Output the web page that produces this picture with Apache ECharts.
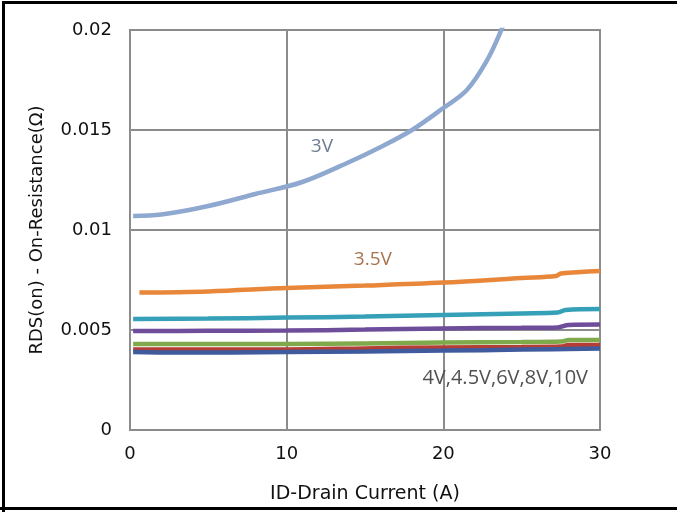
<!DOCTYPE html>
<html><head><meta charset="utf-8">
<script src="https://cdn.jsdelivr.net/npm/echarts@6/dist/echarts.min.js"></script>
<style>html,body{margin:0;padding:0;background:#fff}#c{width:677px;height:512px}</style>
</head><body><div id="c"></div>
<script>
const xTicks = [0, 10, 20, 30];
const yTicks = [0, 0.005, 0.01, 0.015, 0.02];

const x3V = [0.2, 2, 5, 8, 11, 14, 16, 18, 20, 21.5, 22.8, 23.7, 24.3];
const y3V = [0.0107, 0.01077, 0.0112, 0.0118, 0.0124, 0.0134, 0.01415, 0.0150, 0.0161, 0.0170, 0.0185, 0.0200, 0.0212];

const x35V = [0.6, 5, 10, 15, 20, 25, 27.2, 27.5, 30];
const y35V = [0.00687, 0.00693, 0.0071, 0.00722, 0.00737, 0.0076, 0.0077, 0.00782, 0.00795];

const xTeal = [0.2, 5, 10, 15, 20, 25, 27.3, 27.8, 30];
const yTeal = [0.00555, 0.00557, 0.00562, 0.00567, 0.00575, 0.00583, 0.00587, 0.006, 0.00605];

const xPurple = [0.2, 5, 10, 15, 20, 25, 27.3, 28, 30];
const yPurple = [0.00495, 0.00496, 0.00497, 0.00502, 0.00508, 0.00511, 0.00513, 0.00525, 0.00527];

const xGreen = [0.2, 5, 10, 15, 20, 25, 27.5, 28, 30];
const yGreen = [0.0043, 0.0043, 0.0043, 0.00433, 0.00437, 0.0044, 0.00442, 0.0045, 0.0045];

const xRed = [0.2, 5, 10, 15, 20, 25, 27.5, 28, 30];
const yRed = [0.00403, 0.00403, 0.00403, 0.00408, 0.00413, 0.00415, 0.00417, 0.00425, 0.00425];

const xBlue = [0.2, 3, 10, 15, 20, 25, 30];
const yBlue = [0.0039, 0.00387, 0.0039, 0.00393, 0.00397, 0.00402, 0.00408];

const labelTexts = ['3V', '3.5V', '4V,4.5V,6V,8V,10V'];

function pairs(xs, ys){ return xs.map((x,i)=>[x, ys[i]]); }

const chart = echarts.init(document.getElementById('c'), null, {renderer:'canvas'});
const axisFont = {fontFamily:'DejaVu Sans, sans-serif', fontSize:18, color:'#111'};
function line(name, data, color){
  return {name, type:'line', data, smooth:0.35, showSymbol:false, symbol:'none', clip:true,
    lineStyle:{color, width:4.5}, itemStyle:{color}, z:3};
}
function note(coord, text, color, size){
  return {symbol:'circle', symbolSize:1, silent:true, itemStyle:{color:'rgba(0,0,0,0)'},
    data:[{coord, value:text, label:{show:true, formatter:text, fontFamily:'Open Sans, sans-serif', fontSize:size, color, position:'inside'}}]};
}
const s3 = line('3V', pairs(x3V,y3V), '#8FA8D0');
s3.markPoint = note([12.25, 0.01415], labelTexts[0], '#6F7C91', 19);
const s35 = line('3.5V', pairs(x35V,y35V), '#E8873A');
s35.markPoint = note([15.5, 0.0085], labelTexts[1], '#A8724C', 19);
const sBlue = line('10V', pairs(xBlue,yBlue), '#3F5B9E');
sBlue.markPoint = note([23.95, 0.0026], labelTexts[2], '#505050', 20);

chart.setOption({
  animation:false,
  backgroundColor:'#fff',
  grid:{left:130, right:77, top:30, bottom:82, show:true, borderColor:'#8c8c8c', borderWidth:2, z:1},
  xAxis:{type:'value', min:xTicks[0], max:xTicks[xTicks.length-1], interval:10,
    name:'ID-Drain Current (A)', nameLocation:'middle', nameGap:55,
    nameTextStyle:Object.assign({}, axisFont, {fontSize:19}),
    axisLine:{show:false}, axisTick:{show:false},
    axisLabel:Object.assign({margin:15}, axisFont),
    splitLine:{show:true, lineStyle:{color:'#8c8c8c', width:2}}},
  yAxis:{type:'value', min:yTicks[0], max:yTicks[yTicks.length-1], interval:0.005,
    name:'RDS(on) - On-Resistance(Ω)', nameLocation:'middle', nameGap:84,
    nameTextStyle:Object.assign({}, axisFont, {fontSize:18}),
    axisLine:{show:false}, axisTick:{show:false},
    axisLabel:Object.assign({margin:18, formatter:v=>String(+v.toFixed(3))}, axisFont),
    splitLine:{show:true, lineStyle:{color:'#8c8c8c', width:2}}},
  graphic:[{type:'polyline', shape:{points:[[3.5,520],[3.5,2.5],[690,2.5]]}, style:{stroke:'#000', lineWidth:3, fill:null}, z:10},
           {type:'line', shape:{x1:0,y1:508.5,x2:690,y2:508.5}, style:{stroke:'#000', lineWidth:3}, z:10}],
  series:[
    s3, s35,
    line('4V', pairs(xTeal,yTeal), '#35A0B7'),
    line('4.5V', pairs(xPurple,yPurple), '#6E4D9A'),
    line('6V', pairs(xGreen,yGreen), '#80A94B'),
    line('8V', pairs(xRed,yRed), '#B43D36'),
    sBlue
  ]
});
</script></body></html>
